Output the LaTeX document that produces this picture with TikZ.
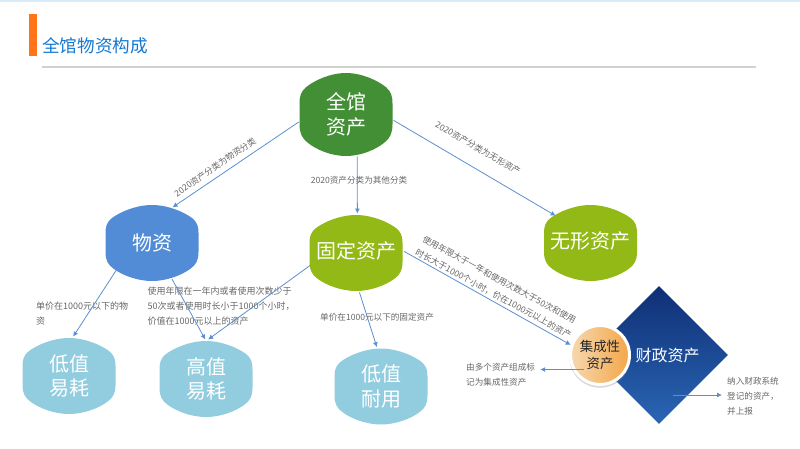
\documentclass[tikz,border=0pt]{standalone}
\usepackage{fontspec}
\setmainfont{Noto Sans CJK SC}
\usetikzlibrary{arrows.meta,shapes.geometric,shadows}
\definecolor{rootgreen}{HTML}{428F36}
\definecolor{wzblue}{HTML}{528CD6}
\definecolor{gdgreen}{HTML}{92B916}
\definecolor{ltblue}{HTML}{92CDDF}
\definecolor{titleblue}{HTML}{1478D2}
\definecolor{barorange}{HTML}{FF7518}
\definecolor{lineblue}{HTML}{5B8FD0}
\definecolor{txtgrey}{HTML}{666666}
\definecolor{topstrip}{HTML}{D8ECF8}
\definecolor{cztop}{HTML}{0F2F75}
\definecolor{czbottom}{HTML}{2A66B5}
\definecolor{jcleft}{HTML}{F7D8B0}
\definecolor{jcright}{HTML}{F3A648}
% blob: [half height]{name}{position}{colour}{text}
\newcommand{\blob}[5][38]{%
  \fill[#4,shift={(#3)},yscale=#1/38] (0,-38)
    .. controls (16,-38) and (32,-31) .. (40,-25)
    .. controls (45,-21) and (46.5,-17) .. (46.5,-10) -- (46.5,9)
    .. controls (46.5,17) and (44,22) .. (38,26)
    .. controls (30,32) and (15,38) .. (0,38)
    .. controls (-15,38) and (-30,32) .. (-38,26)
    .. controls (-44,22) and (-46.5,17) .. (-46.5,9) -- (-46.5,-10)
    .. controls (-46.5,-17) and (-45,-21) .. (-40,-25)
    .. controls (-32,-31) and (-16,-38) .. (0,-38) -- cycle;
  \node[blobtext,minimum height=2*#1*1pt] (#2) at (#3) {#5};
}
\begin{document}
\begin{tikzpicture}[
    x=1pt, y=-1pt,
    % Blob text and its border for the connectors
    blobtext/.style={ellipse, minimum width=93pt, inner sep=-12pt, outer sep=1.5pt,
        align=center, text=white, font=\fontsize{20}{24.5}\selectfont},
    % Grey remarks
    remark/.style={align=left, text=txtgrey, inner xsep=5pt, inner ysep=0pt,
        font=\fontsize{8.6}{15}\selectfont},
    wideremark/.style={remark, font=\fontsize{9}{15}\selectfont},
    arr/.style={lineblue, line width=0.8pt, -{Latex[length=5pt,width=5pt]}}
]
\useasboundingbox (0,0) rectangle (800,448);

% --- Header ---
\fill[topstrip] (0,0) rectangle (800,2);
\fill[barorange] (29,14) rectangle (37,56);
\node[anchor=west, inner sep=0pt, text=titleblue, font=\fontsize{17.6}{20}\selectfont] (title) at (42,46) {全馆物资构成};
\draw[black!18, line width=1.5pt] (42,67) -- (756,67);

% --- Blobs ---
\blob[41.5]{root}{346,114.5}{rootgreen}{全馆\\资产}
\blob{wz}{152,243}{wzblue}{物资}
\blob{gd}{356,253}{gdgreen}{\raisebox{5pt}{固定资产}}
\blob{wx}{590.5,243}{gdgreen}{\raisebox{5pt}{无形资产}}
\blob{dz}{69,376}{ltblue}{低值\\易耗}
\blob{gz}{206,379}{ltblue}{高值\\易耗}
\blob{ldn}{381,386.5}{ltblue}{低值\\耐用}

% --- Diamond and circle ---
\node[diamond, aspect=1, minimum size=138pt, inner sep=0pt, top color=cztop, bottom color=czbottom] (cz) at (659,355) {};
\node[text=white, inner sep=0pt, font=\fontsize{16}{18}\selectfont] (czname) at (667.5,355) {财政资产};
\node[circle, minimum size=59pt, inner sep=0pt, draw=white, line width=3pt,
    drop shadow={shadow xshift=0pt, shadow yshift=-2pt, opacity=0.3, shadow scale=1.04},
    left color=jcleft, right color=jcright, align=center,
    font=\fontsize{13.4}{17}\selectfont, text=black!85] (jc) at (600,355) {\raisebox{2pt}{集成性}\\\raisebox{2pt}{资产}};

% --- Remarks ---
\node[wideremark, anchor=north west] (wzlabel) at (31,302) {单价在1000元以下的物\\资};
\node[wideremark, anchor=north west] (gzlabel) at (142.5,286.5) {使用年限在一年内或者使用次数少于\\50次或者使用时长小于1000个小时，\\价值在1000元以上的资产};
\node[remark, anchor=west] (ldnlabel) at (315,317) {单价在1000元以下的固定资产};
\node[remark, anchor=west] (jclabel) at (461,374.5) {由多个资产组成标\\记为集成性资产};
\node[remark, anchor=west] (czlabel) at (722,396.5) {纳入财政系统\\登记的资产，\\并上报};

% --- Connectors ---
\draw[arr] (root.189) -- (wz.60);
\draw[arr] (root.-75) -- (gd.88);
\draw[arr] (root.-7) -- (wx.142);
\draw[arr] (wz.217) -- (dz.84);
\draw[arr] (wz.-61) -- (gz.91);
\draw[arr] (gd.195) -- (gz.87);
\draw[arr] (gd.-85) -- (ldn.96);
\draw[arr] (gd.2) -- (jc.161);
\coordinate (jcout) at (584,369.5);
\coordinate (czout) at (673,395);
\draw[arr] (jcout) -- (jcout -| jclabel.east);
\draw[arr] (czout) -- (czout -| czlabel.west);

% --- Labels on the connectors ---
\node[remark, inner sep=0pt] (rootwz) at (215,167) [rotate=34.5] {2020资产分类为物资分类};
\node[remark, inner sep=0pt] (rootgd) at (359,180) {2020资产分类为其他分类};
\node[remark, inner sep=0pt] (rootwx) at (478,148) [rotate=-30] {2020资产分类为无形资产};
\node[remark, inner sep=0pt] (gdjc) at (497,287) [rotate=-28.6] {使用年限大于一年和使用次数大于50次和使用\\时长大于1000个小时，价在1000元以上的资产};
\end{tikzpicture}
\end{document}
